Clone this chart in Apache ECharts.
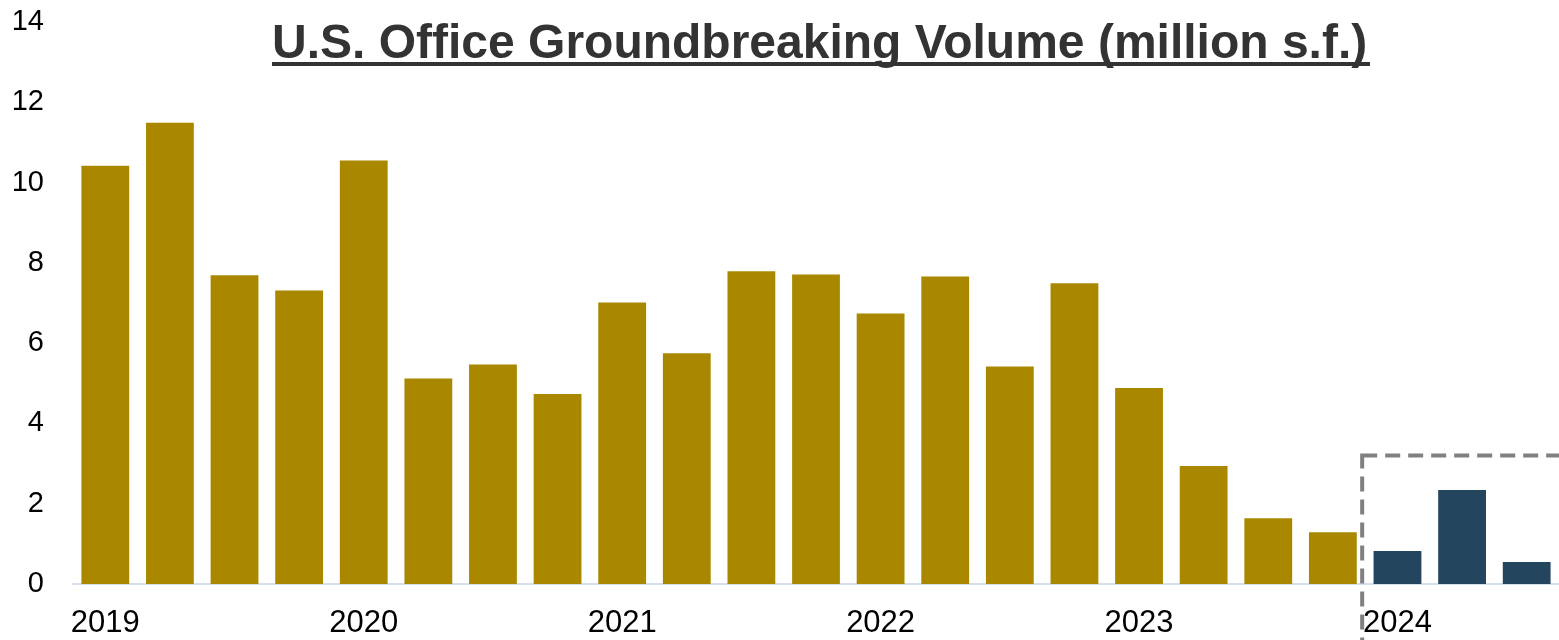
<!DOCTYPE html>
<html>
<head>
<meta charset="utf-8">
<script src="https://cdn.jsdelivr.net/npm/echarts@6/dist/echarts.min.js"></script>
<style>html,body{margin:0;padding:0;background:#fff}#c{width:1559px;height:640px}</style>
</head>
<body>
<div id="c"></div>
<script>
const categories = ['2019','2019 Q2','2019 Q3','2019 Q4','2020','2020 Q2','2020 Q3','2020 Q4','2021','2021 Q2','2021 Q3','2021 Q4','2022','2022 Q2','2022 Q3','2022 Q4','2023','2023 Q2','2023 Q3','2023 Q4','2024','2024 Q2','2024 Q3'];
const values = [10.42,11.49,7.69,7.31,10.55,5.12,5.47,4.73,7.01,5.75,7.79,7.71,6.74,7.66,5.42,7.49,4.88,2.94,1.64,1.29,0.82,2.34,0.55];
const highlightStart = 20;
const yTicks = { min: 0, max: 14, interval: 2 };
const titleText = 'U.S. Office Groundbreaking Volume (million s.f.)';
const gold = '#A98800', navy = '#24455E';

const chart = echarts.init(document.getElementById('c'), null, {renderer:'canvas'});
chart.setOption({
  animation: false,
  title: {
    text: titleText, left: 267, top: 16,
    textStyle: { fontFamily: 'Liberation Sans, Arial', fontWeight: 'bold', fontSize: 48, color: '#333333' }
  },
  grid: { left: 73, width: 1488, top: 22, bottom: 56, containLabel: false },
  xAxis: {
    type: 'category', data: categories,
    axisLine: { lineStyle: { color: '#D6DFEF', width: 2 } },
    axisTick: { show: false },
    axisLabel: {
      interval: 3, margin: 24,
      formatter: v => v.split(' ')[0],
      fontFamily: 'Liberation Sans, Arial', fontSize: 31, color: '#000'
    }
  },
  yAxis: {
    type: 'value', min: yTicks.min, max: yTicks.max, interval: yTicks.interval,
    splitLine: { show: false }, axisLine: { show: false }, axisTick: { show: false },
    axisLabel: { margin: 29, fontFamily: 'Liberation Sans, Arial', fontSize: 29, color: '#000' }
  },
  series: [{
    type: 'bar', barCategoryGap: '26%',
    data: values.map((v, i) => ({ value: v, itemStyle: { color: i >= highlightStart ? navy : gold } }))
  }]
});

function drawDecor() {
  const band = chart.getModel().getComponent('xAxis', 0).axis.getBandWidth();
  const x0 = chart.convertToPixel({xAxisIndex:0}, highlightStart) - band/2;
  const yTop = chart.convertToPixel({yAxisIndex:0}, 3.2);
  chart.setOption({
    graphic: [
      { type: 'rect', z: 100, silent: true,
        shape: { x: x0 - 3, y: yTop, width: 400, height: 400 },
        style: { fill: 'none', stroke: '#808080', lineWidth: 4, lineDash: [15, 8] } },
      { type: 'line', z: 100, silent: true,
        shape: { x1: 272, y1: 64, x2: 1370, y2: 64 },
        style: { stroke: '#333333', lineWidth: 4 } }
    ]
  });
}
drawDecor();
</script>
</body>
</html>
